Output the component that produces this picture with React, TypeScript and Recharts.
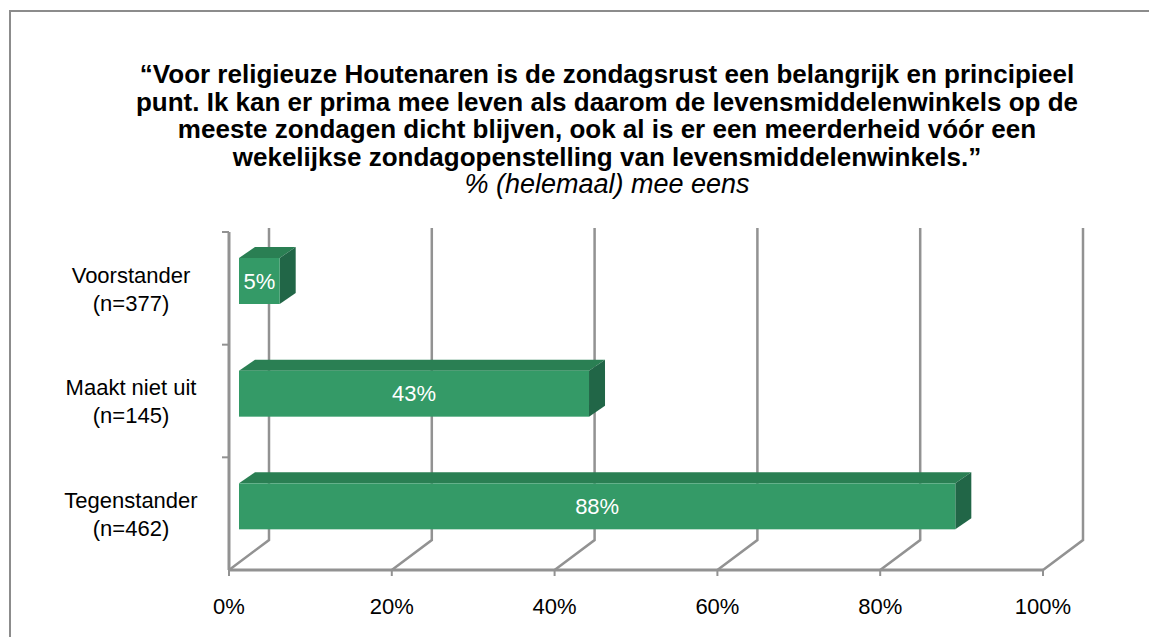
import React from 'react';
import { BarChart, Bar, XAxis, YAxis, CartesianGrid, LabelList } from 'recharts';

const categories = ['Voorstander', 'Maakt niet uit', 'Tegenstander'];
const sampleSizes = ['(n=377)', '(n=145)', '(n=462)'];
const agreePct = [5, 43, 88];
const xTicks = [0, 20, 40, 60, 80, 100];

const titleLines = [
  '\u201cVoor religieuze Houtenaren is de zondagsrust een belangrijk en principieel',
  'punt. Ik kan er prima mee leven als daarom de levensmiddelenwinkels op de',
  'meeste zondagen dicht blijven, ook al is er een meerderheid vóór een',
  'wekelijkse zondagopenstelling van levensmiddelenwinkels.\u201d',
];
const subtitle = '% (helemaal) mee eens';

const data = categories.map((name, i) => ({ name, n: sampleSizes[i], value: agreePct[i] }));

const FONT = '"Liberation Sans", Arial, sans-serif';
const GRID = '#929292';
// 3d look: back plane offset and bar depth
const BACK_DX = 40;
const BACK_DY = 30;
const BAR_OX = 10;
const BAR_OY = -7;
const DEPTH_X = 16;
const DEPTH_Y = 11;

function GridLine(props: any) {
  const { x1, y1, y2 } = props;
  const bottom = Math.max(y1, y2);
  const top = Math.min(y1, y2);
  const bx = x1 + BACK_DX;
  return (
    <polyline
      key={props.key}
      points={`${x1},${bottom} ${bx},${bottom - BACK_DY} ${bx},${top - 4}`}
      fill="none"
      stroke={GRID}
      strokeWidth={2.5}
    />
  );
}

function Box3D(props: any) {
  const { x, y, width, height } = props;
  const fx = x + BAR_OX;
  const fy = y + BAR_OY;
  return (
    <g>
      <polygon
        points={`${fx},${fy} ${fx + DEPTH_X},${fy - DEPTH_Y} ${fx + width + DEPTH_X},${fy - DEPTH_Y} ${fx + width},${fy}`}
        fill="#2a7f53"
      />
      <polygon
        points={`${fx + width},${fy} ${fx + width + DEPTH_X},${fy - DEPTH_Y} ${fx + width + DEPTH_X},${fy + height - DEPTH_Y} ${fx + width},${fy + height}`}
        fill="#216647"
      />
      <rect x={fx} y={fy} width={width} height={height} fill="#349a67" />
    </g>
  );
}

function BarLabel(props: any) {
  const { x, y, width, height, value } = props;
  return (
    <text
      x={x + BAR_OX + width / 2}
      y={y + BAR_OY + height / 2}
      dy="0.35em"
      textAnchor="middle"
      fill="#fff"
      fontSize={22}
      fontFamily={FONT}
    >
      {value}%
    </text>
  );
}

function CategoryTick(props: any) {
  const { y, payload, index } = props;
  const band = 338 / categories.length;
  const top = y - band / 2;
  return (
    <g>
      <line x1={222} y1={top} x2={229} y2={top} stroke={GRID} strokeWidth={2} />
      <text x={131} y={y + 1} textAnchor="middle" fontSize={22} fontFamily={FONT} fill="#000">
        <tspan x={131} dy="-0.3em">{payload.value}</tspan>
        <tspan x={131} dy="1.27em">{sampleSizes[index]}</tspan>
      </text>
    </g>
  );
}

export default function App() {
  return (
    <div style={{ position: 'fixed', left: 0, top: 0, width: 1149, height: 637, overflow: 'hidden', background: '#fff' }}>
      <div
        style={{
          position: 'absolute',
          left: 9,
          top: 10,
          width: 1200,
          height: 700,
          border: '2px solid #8c8c8c',
          boxSizing: 'border-box',
        }}
      />
      <div
        style={{
          position: 'absolute',
          left: 0,
          top: 61,
          width: 1214,
          textAlign: 'center',
          fontFamily: FONT,
          fontSize: 26,
          lineHeight: '27.5px',
          color: '#000',
        }}
      >
        {titleLines.map((line) => (
          <div key={line} style={{ fontWeight: 'bold', whiteSpace: 'nowrap' }}>
            {line}
          </div>
        ))}
        <div style={{ fontStyle: 'italic', whiteSpace: 'nowrap', fontSize: 27 }}>{subtitle}</div>
      </div>
      <div style={{ position: 'absolute', left: 0, top: 0 }}>
        <BarChart
          width={1149}
          height={637}
          data={data}
          layout="vertical"
          margin={{ top: 232, right: 106, bottom: 37, left: 29 }}
        >
          <CartesianGrid horizontal={false} vertical={GridLine} />
          <XAxis
            type="number"
            domain={[0, 100]}
            ticks={xTicks}
            tickFormatter={(v) => `${v}%`}
            axisLine={{ stroke: GRID, strokeWidth: 3 }}
            tickLine={{ stroke: GRID, strokeWidth: 2 }}
            tickSize={6}
            tickMargin={22}
            height={30}
            tick={{ fontSize: 22, fill: '#000', fontFamily: FONT }}
          />
          <YAxis
            type="category"
            dataKey="name"
            width={200}
            axisLine={{ stroke: GRID, strokeWidth: 3 }}
            tickLine={false}
            tick={<CategoryTick />}
          />
          <Bar dataKey="value" barSize={46} shape={<Box3D />} isAnimationActive={false}>
            <LabelList dataKey="value" content={<BarLabel />} />
          </Bar>
        </BarChart>
      </div>
    </div>
  );
}
